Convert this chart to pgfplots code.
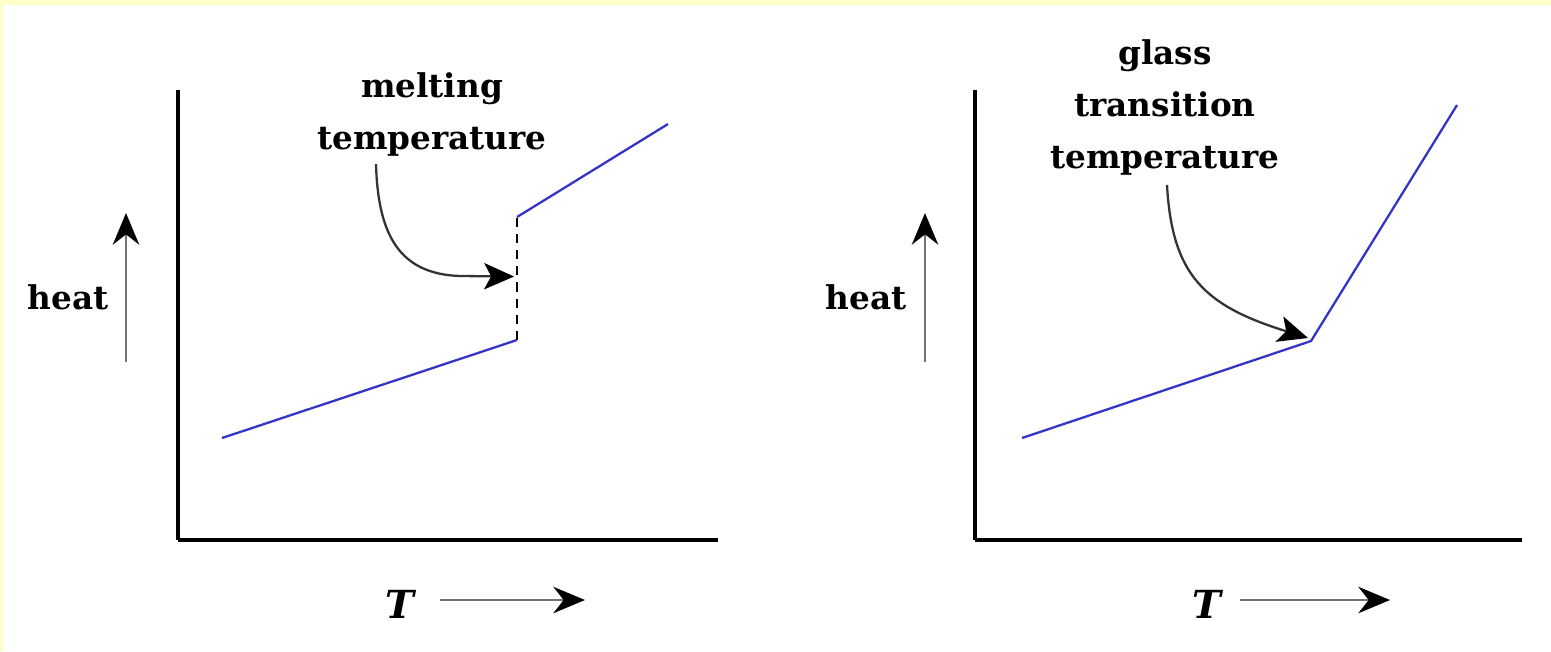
\documentclass[border=0pt]{standalone}
\usepackage{pgfplots}
\pgfplotsset{compat=1.18}
\usepackage{fontspec}
\setmainfont{DejaVu Serif}
\usetikzlibrary{arrows.meta}
\definecolor{lineblue}{RGB}{52,52,200}
\definecolor{bgyellow}{RGB}{255,255,200}
\begin{document}
\begin{tikzpicture}[x=1cm,y=1cm]
\fill[bgyellow] (0,0) rectangle (15.51,6.51);
\fill[white] (0.03,0) rectangle (15.51,6.46);
\pgfplotsset{panel/.style={
  scale only axis, axis lines=left, axis line style={-, line width=1.1pt, black},
  xtick=\empty, ytick=\empty, ymin=111, ymax=561, height=4.5cm, clip=false,
  anchor=south west}}
\begin{axis}[panel, xmin=178, xmax=718, width=5.4cm, at={(1.78cm,1.11cm)}]
\addplot[lineblue, line width=0.65pt] coordinates {(222,213) (517,311)};
\addplot[black, line width=0.85pt, dash pattern=on 2.6pt off 2pt] coordinates {(517,311) (517,434)};
\addplot[lineblue, line width=0.65pt] coordinates {(517,434) (668,527)};
\end{axis}
\begin{axis}[panel, xmin=975, xmax=1522, width=5.47cm, at={(9.75cm,1.11cm)}]
\addplot[lineblue, line width=0.65pt] coordinates {(1022,213) (1311,310) (1457,546)};
\end{axis}
\tikzset{lab/.style={font=\fontsize{9.3}{14.8}\selectfont\bfseries, align=center, inner sep=0pt},
  ann/.style={line width=0.65pt, black!80, -{Stealth[length=8.5pt,width=7.5pt,inset=2pt,color=black]}},
  ax/.style={line width=0.8pt, black!55, -{Stealth[length=9pt,width=7.5pt,color=black]}}}
% left panel annotations
\node[lab] at (4.32,5.37) {melting\\temperature};
\draw[ann] (3.76,4.87) .. controls (3.78,4.15) and (4.0,3.77) .. (4.6,3.75) -- (5.14,3.745);
\node[lab] at (0.68,3.54) {heat};
\draw[ax] (1.26,2.89) -- (1.26,4.38);
\node[lab, font=\fontsize{11}{13}\selectfont\bfseries\itshape] at (4.00,0.47) {T};
\draw[ax] (4.40,0.51) -- (5.85,0.51);
% right panel annotations
\node[lab] at (11.65,5.44) {glass\\transition\\temperature};
\draw[ann] (11.67,4.66) .. controls (11.72,3.75) and (12.05,3.45) .. (13.08,3.13);
\node[lab] at (8.66,3.54) {heat};
\draw[ax] (9.25,2.89) -- (9.25,4.38);
\node[lab, font=\fontsize{11}{13}\selectfont\bfseries\itshape] at (12.07,0.47) {T};
\draw[ax] (12.40,0.51) -- (13.90,0.51);
\end{tikzpicture}
\end{document}
